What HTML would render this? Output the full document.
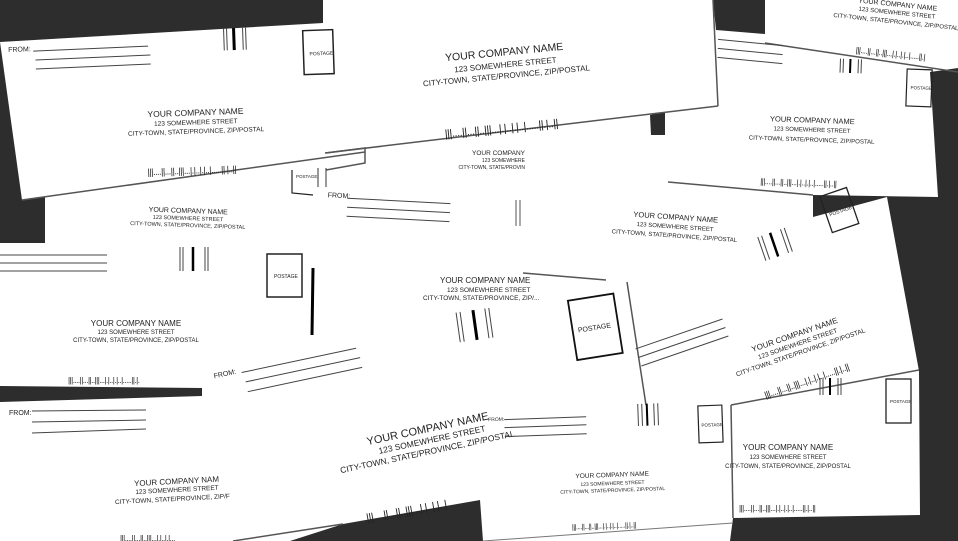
<!DOCTYPE html>
<html><head><meta charset="utf-8"><style>
html,body{margin:0;padding:0;background:#fff;}
svg{display:block;}
text{font-family:"Liberation Sans",sans-serif;fill:#222;}
</style></head><body>
<svg width="958" height="541" viewBox="0 0 958 541" xmlns="http://www.w3.org/2000/svg">
<rect width="958" height="541" fill="#fff"/>
<g fill="#2d2d2d">
<polygon points="0,0 323,0 323,23 0,42"/>
<polygon points="0,42 22,200 45,197 45,243 0,243"/>
<polygon points="713,0 765,0 765,34 716,30"/>
<polygon points="650,115 665,112 665,135 651,135"/>
<polygon points="0,386 202,388 202,396 0,402"/>
<polygon points="343,524 480,500 483,541 290,541"/>
<polygon points="930,72 958,68 958,541 730,541 733,518 920,515 919,371 887,197 813,217 813,195 938,197"/>
</g>
<g stroke="#555" stroke-width="1.5" fill="none">
<line x1="22" y1="200" x2="365" y2="152"/>
<line x1="325" y1="153" x2="718" y2="106"/>
<line x1="718" y1="106" x2="713" y2="0"/>
<line x1="765" y1="43" x2="958" y2="72"/>
<line x1="668" y1="182" x2="813" y2="195"/>
<line x1="731" y1="405" x2="919" y2="370"/>
<line x1="731" y1="405" x2="733" y2="518"/>
<line x1="627" y1="282" x2="646" y2="405"/>
<line x1="523" y1="273" x2="606" y2="280"/>
<line x1="233" y1="541" x2="343" y2="524"/>
<polyline points="326,153 365,148 365,163 326,170" />
</g>

<g transform="rotate(-2 180 100)">
<text x="10" y="46" font-size="7">FROM:</text>
<g stroke="#444" stroke-width="1"><line x1="35" y1="46" x2="150" y2="45"/><line x1="37" y1="55" x2="152" y2="54"/><line x1="37" y1="64" x2="152" y2="63"/></g>
<g stroke="#444"><line x1="226" y1="30" x2="226" y2="52"/><line x1="229" y1="30" x2="229" y2="52"/><line x1="245" y1="30" x2="245" y2="52"/><line x1="248" y1="30" x2="248" y2="52"/></g>
<line x1="236" y1="30" x2="236" y2="52" stroke="#000" stroke-width="3"/>
<rect x="305" y="35" width="30" height="44" fill="none" stroke="#222" stroke-width="1.5"/>
<text x="311" y="60" font-size="5">POSTAGE</text>
<g text-anchor="middle"><text x="195" y="116" font-size="8.5">YOUR COMPANY NAME</text><text x="195" y="125" font-size="6.5">123 SOMEWHERE STREET</text><text x="195" y="134" font-size="6.5">CITY-TOWN, STATE/PROVINCE, ZIP/POSTAL</text></g>
<text x="145" y="174" font-size="9" letter-spacing="-0.5">|||....||...||..|||...|.|..|.|..|.....||.|..||</text>
</g>

<g transform="rotate(-5.5 520 60)">
<g text-anchor="middle"><text x="505" y="54" font-size="10.5">YOUR COMPANY NAME</text><text x="505" y="66" font-size="8">123 SOMEWHERE STREET</text><text x="505" y="77" font-size="8">CITY-TOWN, STATE/PROVINCE, ZIP/POSTAL</text></g>
<text x="438" y="130" font-size="11" letter-spacing="-0.5">|||....||...||..|||...|.|..|.|..|.....||.|..||</text>
</g>

<g transform="rotate(6 880 30)">
<g text-anchor="middle"><text x="895" y="5" font-size="7">YOUR COMPANY NAME</text><text x="895" y="13" font-size="6">123 SOMEWHERE STREET</text><text x="895" y="22" font-size="6">CITY-TOWN, STATE/PROVINCE, ZIP/POSTAL</text></g>
<text x="858" y="55" font-size="8" letter-spacing="-0.5">|||....||...||..|||...|.|..|.|..|.....||.|</text>
</g>

<g transform="rotate(2 820 130)">
<g stroke="#444"><line x1="715" y1="43" x2="780" y2="47"/><line x1="715" y1="52" x2="780" y2="56"/><line x1="715" y1="61" x2="780" y2="65"/></g>
<g stroke="#444"><line x1="838" y1="58" x2="838" y2="72"/><line x1="841" y1="58" x2="841" y2="72"/><line x1="856" y1="58" x2="856" y2="72"/><line x1="859" y1="58" x2="859" y2="72"/></g>
<line x1="848" y1="58" x2="848" y2="72" stroke="#000" stroke-width="2"/>
<rect x="905" y="66" width="25" height="37" fill="none" stroke="#222" stroke-width="1.2"/>
<text x="909" y="86" font-size="4.5">POSTAGE</text>
<g text-anchor="middle"><text x="812" y="123" font-size="7.5">YOUR COMPANY NAME</text><text x="812" y="132" font-size="6">123 SOMEWHERE STREET</text><text x="812" y="142" font-size="6">CITY-TOWN, STATE/PROVINCE, ZIP/POSTAL</text></g>
<text x="762" y="186" font-size="8" letter-spacing="-0.5">|||....||...||..|||...|.|..|.|..|.....||.|..||</text>
</g>

<g text-anchor="middle" transform="rotate(2 188 218)"><text x="188" y="213" font-size="7">YOUR COMPANY NAME</text><text x="188" y="220" font-size="5.5">123 SOMEWHERE STREET</text><text x="188" y="227" font-size="5.5">CITY-TOWN, STATE/PROVINCE, ZIP/POSTAL</text></g>
<polyline points="292,170 292,193 313,195" fill="none" stroke="#222" stroke-width="1.2"/>
<text x="296" y="178" font-size="4.5">POSTAGE</text>
<g stroke="#333"><line x1="318" y1="168" x2="318" y2="187"/><line x1="326" y1="168" x2="326" y2="187"/></g>

<g transform="rotate(3 400 210)">
<text x="327" y="201" font-size="7">FROM:</text>
<g stroke="#444"><line x1="347" y1="201" x2="450" y2="201"/><line x1="347" y1="210" x2="450" y2="210"/><line x1="347" y1="219" x2="450" y2="219"/></g>
</g>
<g stroke="#555"><line x1="516" y1="200" x2="516" y2="226"/><line x1="520" y1="200" x2="520" y2="226"/></g>
<g text-anchor="end"><text x="525" y="155" font-size="6.5">YOUR COMPANY</text><text x="525" y="162" font-size="5">123 SOMEWHERE</text><text x="525" y="169" font-size="5">CITY-TOWN, STATE/PROVIN</text></g>
<g text-anchor="middle" transform="rotate(4 680 228)"><text x="675" y="220" font-size="7.5">YOUR COMPANY NAME</text><text x="675" y="229" font-size="6">123 SOMEWHERE STREET</text><text x="675" y="238" font-size="6">CITY-TOWN, STATE/PROVINCE, ZIP/POSTAL</text></g>

<g stroke="#444"><line x1="0" y1="255" x2="107" y2="255"/><line x1="0" y1="263" x2="107" y2="263"/><line x1="0" y1="271" x2="107" y2="271"/></g>
<g stroke="#444"><line x1="180" y1="247" x2="180" y2="271"/><line x1="183" y1="247" x2="183" y2="271"/><line x1="205" y1="247" x2="205" y2="271"/><line x1="208" y1="247" x2="208" y2="271"/></g>
<line x1="193" y1="247" x2="193" y2="271" stroke="#000" stroke-width="2.5"/>
<rect x="267" y="254" width="35" height="43" fill="none" stroke="#222" stroke-width="1.5"/>
<text x="274" y="278" font-size="5">POSTAGE</text>
<line x1="313" y1="268" x2="312" y2="335" stroke="#000" stroke-width="3"/>
<g text-anchor="middle"><text x="136" y="326" font-size="8">YOUR COMPANY NAME</text><text x="136" y="334" font-size="6">123 SOMEWHERE STREET</text><text x="136" y="342" font-size="6">CITY-TOWN, STATE/PROVINCE, ZIP/POSTAL</text></g>
<text x="68" y="383" font-size="8" letter-spacing="-0.5">|||....||...||..|||...|.|..|.|..|.....||.|.</text>

<g text-anchor="start"><text x="440" y="283" font-size="8">YOUR COMPANY NAME</text><text x="447" y="292" font-size="6.5">123 SOMEWHERE STREET</text><text x="423" y="300" font-size="6.5">CITY-TOWN, STATE/PROVINCE, ZIP/...</text></g>
<g transform="rotate(-8 475 325)"><g stroke="#444"><line x1="458" y1="310" x2="458" y2="340"/><line x1="462" y1="310" x2="462" y2="340"/><line x1="487" y1="310" x2="487" y2="340"/><line x1="491" y1="310" x2="491" y2="340"/></g><line x1="475" y1="310" x2="475" y2="340" stroke="#000" stroke-width="3"/></g>

<g transform="rotate(-9 594 325)">
<rect x="572" y="297" width="46" height="60" fill="none" stroke="#111" stroke-width="1.8"/>
<text x="594" y="330" font-size="7" text-anchor="middle">POSTAGE</text>
</g>

<g transform="rotate(-19 790 300)">
<g stroke="#444"><line x1="628" y1="296" x2="720" y2="296"/><line x1="628" y1="305" x2="720" y2="305"/><line x1="628" y1="314" x2="720" y2="314"/></g>
<g stroke="#444"><line x1="780" y1="230" x2="780" y2="255"/><line x1="784" y1="230" x2="784" y2="255"/><line x1="804" y1="230" x2="804" y2="255"/><line x1="808" y1="230" x2="808" y2="255"/></g>
<line x1="793" y1="230" x2="793" y2="255" stroke="#000" stroke-width="2.5"/>
<rect x="852" y="212" width="28" height="38" fill="none" stroke="#222" stroke-width="1.3"/>
<text x="855" y="234" font-size="5">POSTAGE</text>
<g text-anchor="middle"><text x="783" y="337" font-size="8">YOUR COMPANY NAME</text><text x="783" y="346" font-size="6.5">123 SOMEWHERE STREET</text><text x="783" y="355" font-size="6.5">CITY-TOWN, STATE/PROVINCE, ZIP/POSTAL</text></g>
<text x="735" y="385" font-size="9" letter-spacing="-0.5">|||....||...||..|||...|.|..|.|..|.....||.|..||</text>
</g>

<text x="9" y="415" font-size="7">FROM:</text>
<g stroke="#444"><line x1="32" y1="411" x2="146" y2="410"/><line x1="32" y1="422" x2="146" y2="420"/><line x1="32" y1="433" x2="146" y2="429"/></g>
<g text-anchor="middle" transform="rotate(-3 175 490)"><text x="177" y="484" font-size="8">YOUR COMPANY NAM</text><text x="177" y="492" font-size="6.5">123 SOMEWHERE STREET</text><text x="172" y="501" font-size="6.5">CITY-TOWN, STATE/PROVINCE, ZIP/F</text></g>
<text x="120" y="541" font-size="8" letter-spacing="-0.5">|||....||...||..|||...|.|..|.|...</text>

<g transform="rotate(-12 290 350)">
<text x="210" y="362" font-size="7">FROM:</text>
<g stroke="#444"><line x1="238" y1="362" x2="355" y2="362"/><line x1="240" y1="372" x2="357" y2="372"/><line x1="240" y1="382" x2="357" y2="382"/></g>
</g>

<g transform="rotate(-12 430 440)" text-anchor="middle">
<text x="430" y="432" font-size="11">YOUR COMPANY NAME</text><text x="432" y="443" font-size="8.5">123 SOMEWHERE STREET</text><text x="425" y="454" font-size="8.5">CITY-TOWN, STATE/PROVINCE, ZIP/POSTAL</text>
</g>
<g transform="rotate(-10 420 500)"><text x="364" y="512" font-size="11" letter-spacing="-0.5">|||....||...||..|||...|.|..|.|..|</text></g>

<g transform="rotate(-2 610 470)">
<text x="490" y="417" font-size="5">FROM:</text>
<g stroke="#444"><line x1="506" y1="416" x2="588" y2="416"/><line x1="506" y1="424" x2="588" y2="424"/><line x1="506" y1="433" x2="588" y2="433"/></g>
<g stroke="#444"><line x1="640" y1="405" x2="640" y2="427"/><line x1="644" y1="405" x2="644" y2="427"/><line x1="656" y1="405" x2="656" y2="427"/><line x1="660" y1="405" x2="660" y2="427"/></g>
<line x1="649" y1="405" x2="649" y2="427" stroke="#000" stroke-width="2"/>
<rect x="700" y="409" width="24" height="37" fill="none" stroke="#222" stroke-width="1.2"/>
<text x="703" y="430" font-size="4.5">POSTAGE</text>
<g text-anchor="middle"><text x="612" y="477" font-size="6.5">YOUR COMPANY NAME</text><text x="612" y="485" font-size="5">123 SOMEWHERE STREET</text><text x="612" y="492" font-size="5">CITY-TOWN, STATE/PROVINCE, ZIP/POSTAL</text></g>
<text x="570" y="528" font-size="7" letter-spacing="-0.5">|||....||...||..|||...|.|..|.|..|.....||.|..||</text>
</g>
<line x1="483" y1="541" x2="733" y2="523" stroke="#777" stroke-width="1"/>

<g stroke="#444"><line x1="820" y1="378" x2="820" y2="395"/><line x1="823" y1="378" x2="823" y2="395"/><line x1="838" y1="378" x2="838" y2="395"/><line x1="841" y1="378" x2="841" y2="395"/></g>
<line x1="830" y1="378" x2="830" y2="395" stroke="#000" stroke-width="2"/>
<rect x="886" y="379" width="25" height="44" fill="none" stroke="#222" stroke-width="1.3"/>
<text x="890" y="403" font-size="4.5">POSTAGE</text>
<g text-anchor="middle"><text x="788" y="450" font-size="8">YOUR COMPANY NAME</text><text x="788" y="459" font-size="6">123 SOMEWHERE STREET</text><text x="788" y="468" font-size="6">CITY-TOWN, STATE/PROVINCE, ZIP/POSTAL</text></g>
<text x="739" y="511" font-size="8" letter-spacing="-0.5">|||....||...||..|||...|.|..|.|..|.....||.|..||</text>
</svg>
</body></html>
